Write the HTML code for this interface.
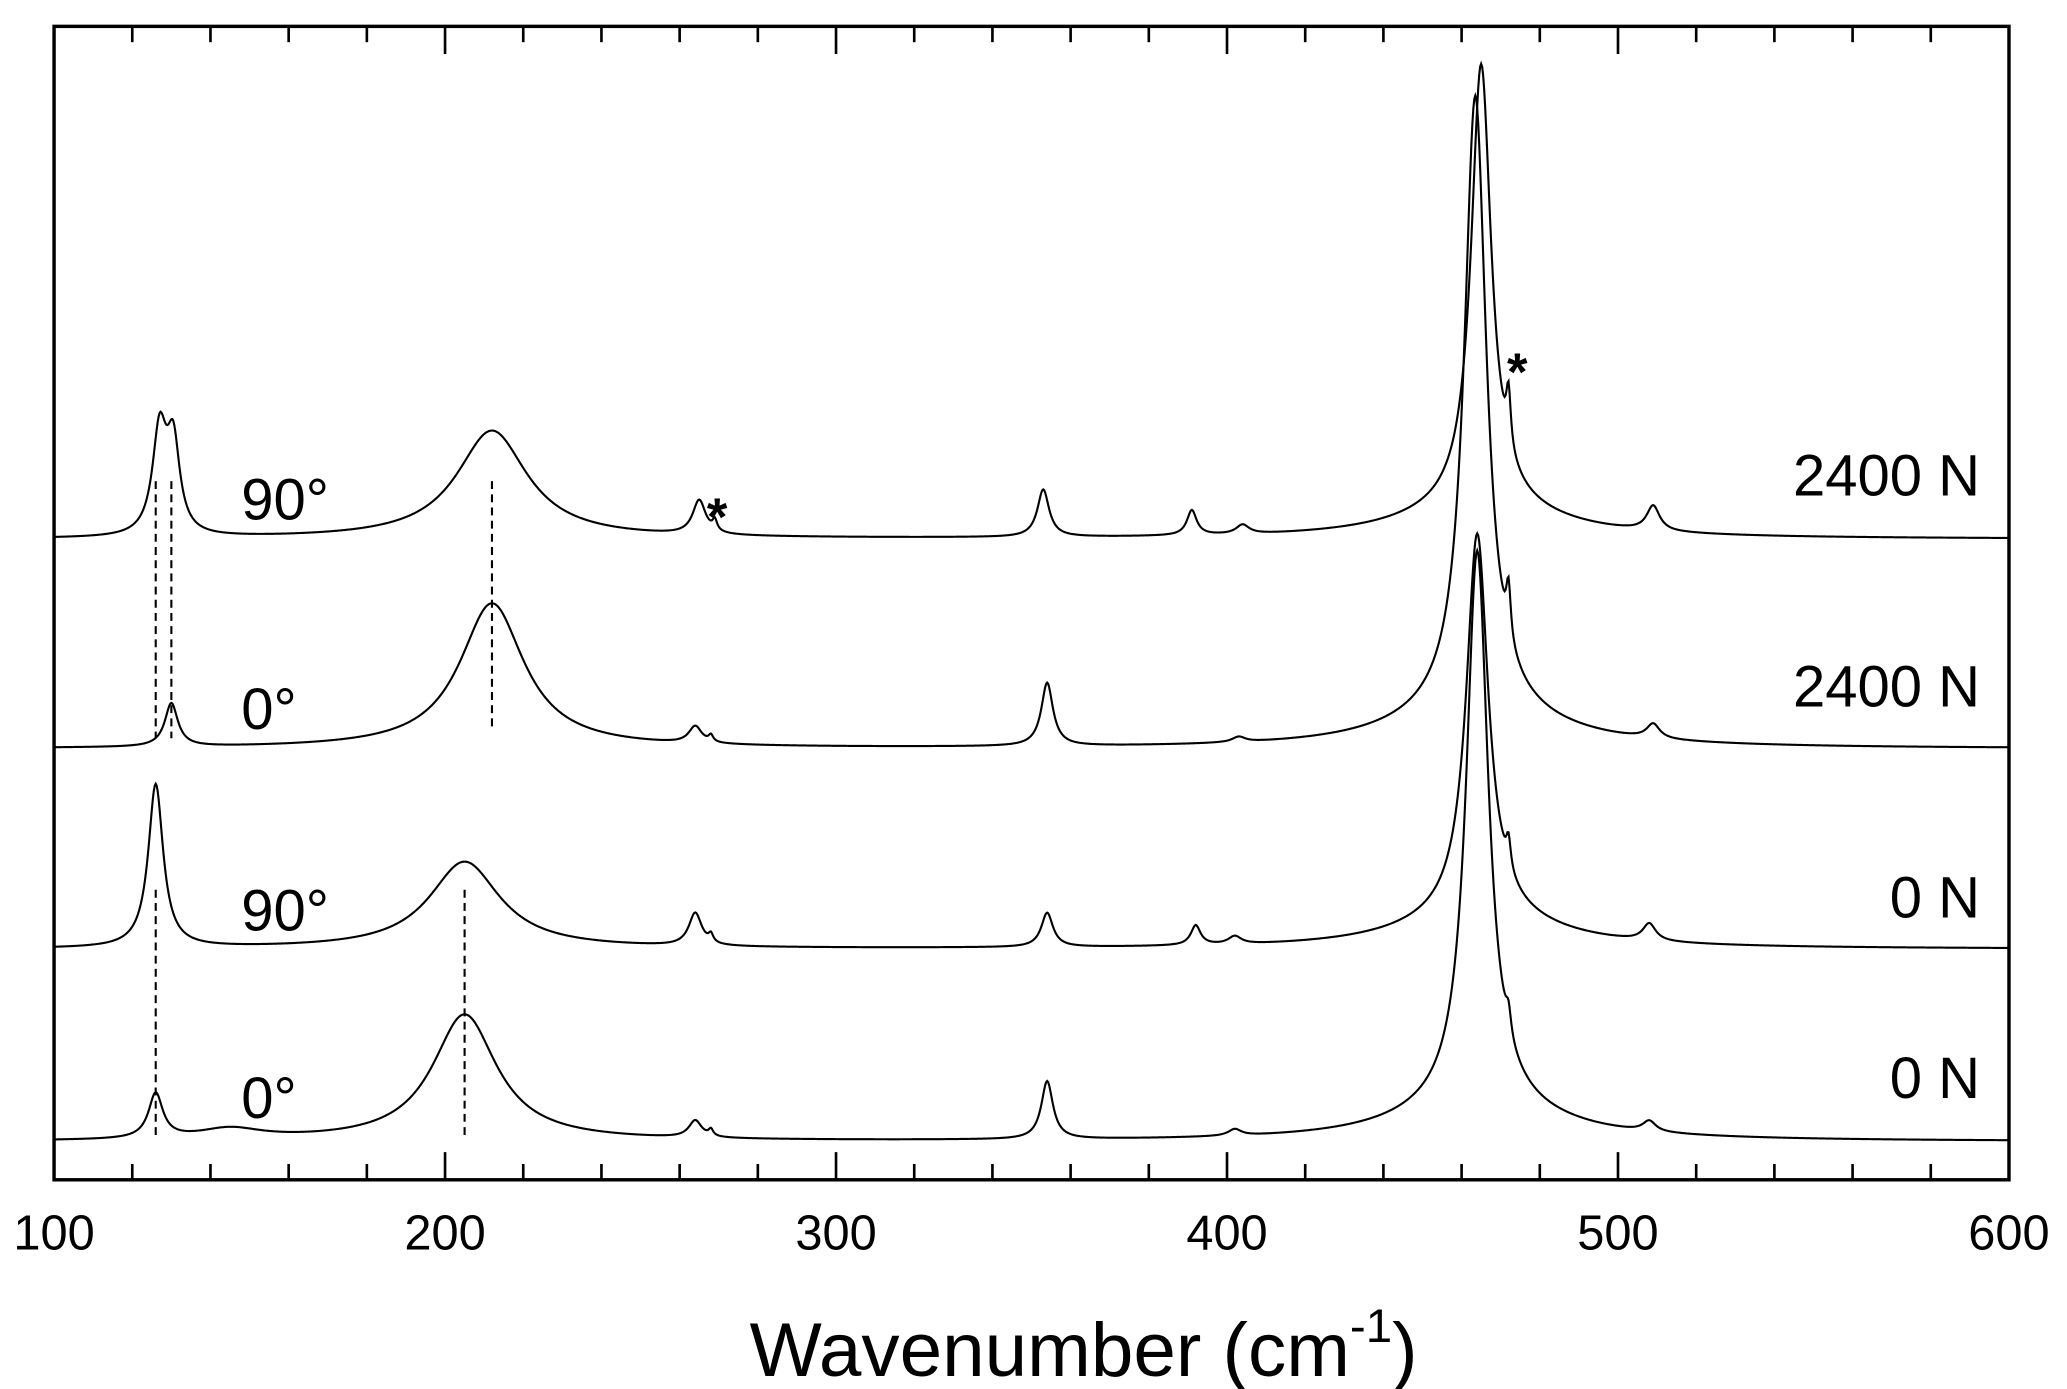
<!DOCTYPE html>
<html><head><meta charset="utf-8">
<style>
html,body{margin:0;padding:0;background:#fff;}
svg{display:block;}
text{font-family:"Liberation Sans",Arial,sans-serif;fill:#000;}
</style></head>
<body>
<svg id="chart" width="2067" height="1389" viewBox="0 0 1568 1053.7" xmlns="http://www.w3.org/2000/svg">
  <rect x="0" y="0" width="1568" height="1054" fill="#fff"/>
  <g id="series"></g>
  <g id="dashes"></g>
  <g id="axes"></g>
  <g>
    <text x="183" y="394" font-size="44">90°</text>
    <text x="183" y="553" font-size="44">0°</text>
    <text x="183" y="706" font-size="44">90°</text>
    <text x="183" y="848" font-size="44">0°</text>
    <text x="1502" y="376" font-size="44" text-anchor="end">2400 N</text>
    <text x="1502" y="536" font-size="44" text-anchor="end">2400 N</text>
    <text x="1502" y="696" font-size="44" text-anchor="end">0 N</text>
    <text x="1502" y="833" font-size="44" text-anchor="end">0 N</text>
    <text x="544" y="406" font-size="40" font-weight="bold" text-anchor="middle">*</text>
    <text x="1151" y="296" font-size="40" font-weight="bold" text-anchor="middle">*</text>
    <text x="822" y="1044" font-size="58" text-anchor="middle">Wavenumber (cm<tspan font-size="36" dy="-26">-1</tspan><tspan dy="26">)</tspan></text>
  </g>
</svg>
<script>
// ---- data ----
const xTicks = [100, 200, 300, 400, 500, 600];
const seriesNames = ["0deg-0N", "90deg-0N", "0deg-2400N", "90deg-2400N"];
const offsets = [0, 146, 298, 457];
// peaks: centres (cm-1), heights (intensity), half-widths (cm-1)
const centers0 = [126, 145, 205, 264, 268, 354, 402, 464, 464, 472, 508];
const heights0 = [34, 8, 96, 13, 5, 44, 5, 420, 28, 18, 8];
const widths0  = [2.2, 10, 10, 2, 0.7, 1.8, 2, 3.4, 22, 0.8, 2];
const centers1 = [126, 205, 264, 268, 354, 392, 402, 464, 464, 472, 508];
const heights1 = [124, 66, 25, 6, 26, 15, 6, 290, 25, 22, 13];
const widths1  = [2.3, 11, 2, 0.7, 1.8, 1.5, 2, 3.4, 22, 0.7, 2];
const centers2 = [130, 212, 264, 268, 354, 403, 463.5, 463.5, 472, 509];
const heights2 = [33, 110, 13, 5, 48, 4, 465, 30, 40, 11];
const widths2  = [2, 10, 2, 0.7, 1.8, 2, 3.4, 22, 0.7, 2];
const centers3 = [127, 130.5, 212, 265, 269, 353, 391, 404, 465, 465, 472, 509];
const heights3 = [78, 66, 82, 26, 8, 36, 19, 7, 335, 25, 42, 19];
const widths3  = [2.2, 2, 11, 2, 0.7, 1.8, 1.5, 2, 3.1, 22, 0.7, 2];
const dashX = [126, 205, 126, 130, 212];
const dashTop = [675, 675, 365, 365, 365];
const dashBottom = [862, 862, 560, 560, 552];

const centersAll = [centers0, centers1, centers2, centers3];
const heightsAll = [heights0, heights1, heights2, heights3];
const widthsAll = [widths0, widths1, widths2, widths3];

// ---- scales ----
const L = 41, R = 1524, T = 20, B = 895, BASE = 866;
function xs(v){ return L + (v - 100) / 500 * (R - L); }
function ys(intensity, i){ return BASE - offsets[i] - intensity; }

const NS = "http://www.w3.org/2000/svg";
const sg = document.getElementById("series");
for (let i = 0; i < 4; i++) {
  let d = "";
  for (let w = 100; w <= 600; w += 0.25) {
    let s = 0;
    const c = centersAll[i], h = heightsAll[i], g = widthsAll[i];
    for (let k = 0; k < c.length; k++) {
      const u = (w - c[k]) / g[k];
      s += h[k] / (1 + u * u);
    }
    d += (d ? "L" : "M") + xs(w).toFixed(2) + "," + ys(s, i).toFixed(2);
  }
  const p = document.createElementNS(NS, "path");
  p.setAttribute("d", d);
  p.setAttribute("fill", "none");
  p.setAttribute("stroke", "#000");
  p.setAttribute("stroke-width", "1.6");
  
  
  sg.appendChild(p);
}

const dg = document.getElementById("dashes");
for (let k = 0; k < dashX.length; k++) {
  const l = document.createElementNS(NS, "line");
  l.setAttribute("x1", xs(dashX[k])); l.setAttribute("x2", xs(dashX[k]));
  l.setAttribute("y1", dashTop[k]); l.setAttribute("y2", dashBottom[k]);
  l.setAttribute("stroke", "#000"); l.setAttribute("stroke-width", "1.6");
  l.setAttribute("stroke-dasharray", "6,4");
  
  
  dg.appendChild(l);
}

const ag = document.getElementById("axes");
const frame = document.createElementNS(NS, "rect");
frame.setAttribute("x", L); frame.setAttribute("y", T);
frame.setAttribute("width", R - L); frame.setAttribute("height", B - T);
frame.setAttribute("fill", "none"); frame.setAttribute("stroke", "#000"); frame.setAttribute("stroke-width", "2.6");


ag.appendChild(frame);
for (let v = 120; v < 600; v += 20) {
  const major = v % 100 === 0;
  const len = major ? 21 : 12;
  [[B, B - len], [T, T + len]].forEach(function(pr){
    const t = document.createElementNS(NS, "line");
    t.setAttribute("x1", xs(v)); t.setAttribute("x2", xs(v));
    t.setAttribute("y1", pr[0]); t.setAttribute("y2", pr[1]);
    t.setAttribute("stroke", "#000"); t.setAttribute("stroke-width", "2");
    
    
    ag.appendChild(t);
  });
}
for (let k = 0; k < xTicks.length; k++) {
  const t = document.createElementNS(NS, "text");
  t.setAttribute("x", xs(xTicks[k])); t.setAttribute("y", 948);
  t.setAttribute("font-size", "37"); t.setAttribute("text-anchor", "middle");
  t.textContent = xTicks[k];
  
  
  ag.appendChild(t);
}
</script>
</body></html>
